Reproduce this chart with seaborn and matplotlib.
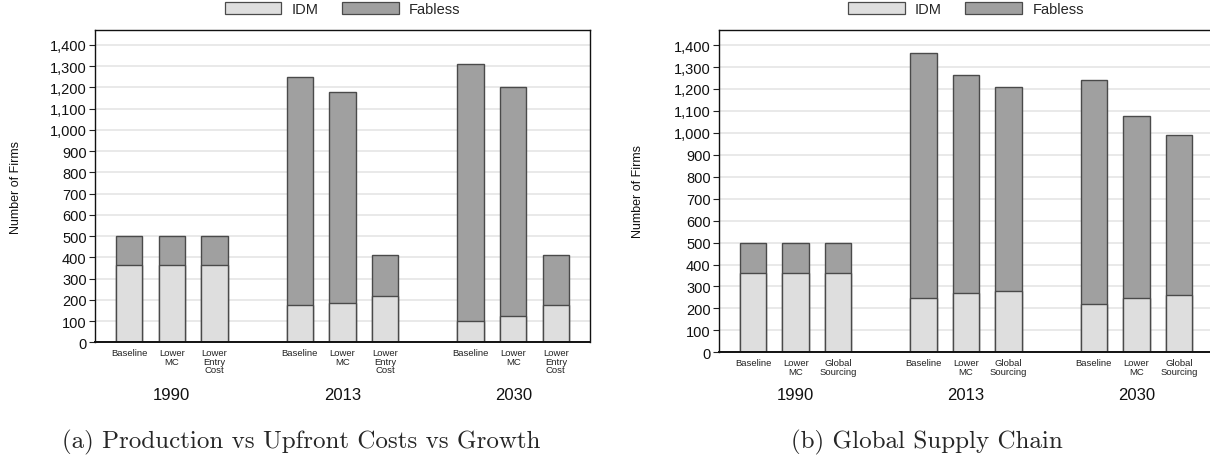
import matplotlib
matplotlib.use("Agg")
import matplotlib.pyplot as plt
import matplotlib.transforms as mtransforms
from matplotlib.patches import Patch
from matplotlib.ticker import FuncFormatter, MultipleLocator
import pandas as pd
import seaborn as sns

# ---- data -------------------------------------------------------------
years = ["1990", "2013", "2030"]
scen_a = ["Baseline", "Lower\nMC", "Lower\nEntry\nCost"]
scen_b = ["Baseline", "Lower\nMC", "Global\nSourcing"]

# (a) Production vs Upfront Costs vs Growth
idm_a = [363, 363, 363, 174, 186, 216, 101, 126, 174]
fabless_a = [137, 137, 137, 1074, 994, 194, 1207, 1076, 238]

# (b) Global Supply Chain
idm_b = [363, 363, 363, 247, 270, 281, 219, 246, 260]
fabless_b = [137, 137, 137, 1118, 992, 927, 1022, 833, 732]

# ---- style ------------------------------------------------------------
sns.set_theme(style="white")
plt.rcParams["font.family"] = ["Liberation Sans", "DejaVu Sans"]

IDM_COLOR = "#dedede"
FAB_COLOR = "#a0a0a0"
EDGE = "#4a4a4a"
GRID = "#e3e3e3"

# bar slots: three scenarios per year, one empty slot between years
positions = [0, 1, 2, 4, 5, 6, 8, 9, 10]
group_centers = [1, 5, 9]

W, H = 1210, 464
fig = plt.figure(figsize=(W / 100, H / 100), dpi=100)
ax_a = fig.add_axes([95 / W, 1 - 343.3 / H, 495 / W, 312.3 / H])
ax_b = fig.add_axes([719 / W, 1 - 353.3 / H, 494 / W, 322.6 / H])


def draw_panel(ax, idm, fabless, scen, ylabel_x):
    df = pd.DataFrame({"pos": positions, "IDM": idm, "Fabless": fabless})
    df["Total"] = df["IDM"] + df["Fabless"]

    ax.set_axisbelow(True)
    ax.yaxis.set_major_locator(MultipleLocator(100))
    ax.grid(axis="y", color=GRID, linewidth=1.1)
    ax.grid(axis="x", visible=False)

    # full stack height in the Fabless shade, IDM drawn from zero on top
    sns.barplot(data=df, x="pos", y="Total", native_scale=True, width=0.62,
                color=FAB_COLOR, saturation=1, edgecolor=EDGE, linewidth=1.0,
                errorbar=None, ax=ax)
    sns.barplot(data=df, x="pos", y="IDM", native_scale=True, width=0.62,
                color=IDM_COLOR, saturation=1, edgecolor=EDGE, linewidth=1.0,
                errorbar=None, ax=ax)

    ax.set_xlim(-0.8, 10.8)
    ax.set_ylim(0, 1470)
    ax.yaxis.set_major_formatter(FuncFormatter(lambda v, _: f"{int(v):,}"))
    ax.set_xticks(positions)
    ax.set_xticklabels(scen * 3, fontsize=6.8, linespacing=0.95,
                       color="#222222")
    ax.tick_params(axis="x", length=0, pad=4)
    ax.tick_params(axis="y", length=4, width=0.8, color="#222222",
                   labelsize=10.5, pad=2, left=True, labelcolor="#111111")
    ax.set_xlabel("")
    ax.set_ylabel("Number of Firms", fontsize=9, color="#111111")
    ax.yaxis.set_label_coords(ylabel_x, 0.5)

    for side in ["left", "bottom", "top", "right"]:
        ax.spines[side].set_visible(True)
        ax.spines[side].set_color("#111111")
        ax.spines[side].set_linewidth(1.0)
    ax.spines["bottom"].set_linewidth(1.4)

    trans = mtransforms.blended_transform_factory(ax.transData, fig.transFigure)
    for cx, yr in zip(group_centers, years):
        ax.text(cx, 1 - 395 / H, yr, transform=trans, ha="center",
                va="center", fontsize=12, color="#111111")

    handles = [Patch(facecolor=IDM_COLOR, edgecolor=EDGE, linewidth=0.9),
               Patch(facecolor=FAB_COLOR, edgecolor=EDGE, linewidth=0.9)]
    ax.legend(handles, ["IDM", "Fabless"], ncol=2, frameon=False,
              loc="center", bbox_to_anchor=(0.5, 1 - 10 / H),
              bbox_transform=mtransforms.blended_transform_factory(
                  ax.transAxes, fig.transFigure),
              fontsize=10.5, handlelength=3.9, handleheight=0.95,
              handletextpad=0.7, columnspacing=1.6, borderaxespad=0)


draw_panel(ax_a, idm_a, fabless_a, scen_a, -0.1465)
draw_panel(ax_b, idm_b, fabless_b, scen_b, -0.152)

fig.text(301 / W, 1 - 442 / H, "(a) Production vs Upfront Costs vs Growth",
         family="cmr10", fontsize=18, ha="center", va="center")
fig.text(927 / W, 1 - 442 / H, "(b) Global Supply Chain",
         family="cmr10", fontsize=18, ha="center", va="center")

fig.savefig("out.png", dpi=100)
